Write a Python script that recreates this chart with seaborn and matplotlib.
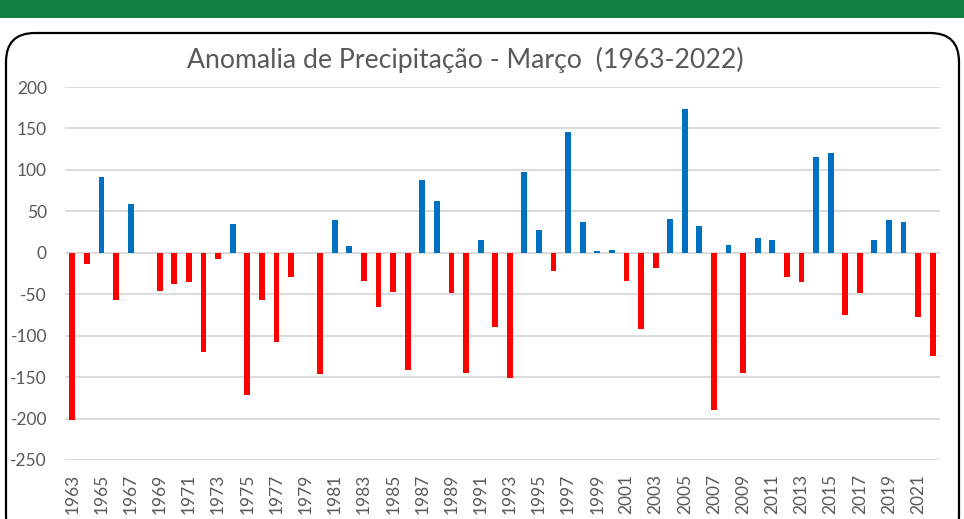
import seaborn as sns
import matplotlib.pyplot as plt
from matplotlib.patches import FancyBboxPatch, Rectangle
import pandas as pd

# Monthly precipitation anomaly for March, 1963-2022 (mm)
years = list(range(1963, 2023))
anomaly = [
    -202, -14, 92, -57, 59, 0, -46, -38, -35, -120,
    -8, 35, -172, -57, -108, -29, 0, -146, 39, 8,
    -34, -66, -47, -142, 88, 63, -49, -145, 15, -90,
    -151, 98, 27, -22, 146, 37, 2, 3, -34, -92,
    -18, 41, 173, 32, -190, 9, -145, 18, 16, -29,
    -35, 115, 120, -75, -49, 15, 39, 37, -77, -125,
]
y_ticks = [200, 150, 100, 50, 0, -50, -100, -150, -200, -250]
title = "Anomalia de Precipitação - Março  (1963-2022)"

df = pd.DataFrame({"Ano": [str(y) for y in years], "Anomalia": anomaly})
df["Sinal"] = ["pos" if v >= 0 else "neg" for v in anomaly]

sns.set_style("white")
plt.rcParams["font.family"] = ["Lato", "DejaVu Sans"]

fig = plt.figure(figsize=(9.64, 5.19), dpi=100)
fig.patch.set_facecolor("white")

# green header band and rounded frame (behind the axes)
fig.add_artist(Rectangle((0, 1 - 18 / 519), 1, 18 / 519, transform=fig.transFigure,
                         facecolor="#138040", edgecolor="none", zorder=-2))
fig.add_artist(FancyBboxPatch((6 / 964, -0.05), 953 / 964, 1.05 - 33 / 519,
                              boxstyle="round,pad=0,rounding_size=0.03",
                              transform=fig.transFigure, facecolor="white",
                              edgecolor="black", linewidth=1.6,
                              mutation_aspect=964 / 519, zorder=-1))

ax = fig.add_axes([65 / 964, 1 - 460 / 519, 875 / 964, 373 / 519])
ax.set_zorder(2)
ax.set_facecolor("none")
sns.barplot(data=df, x="Ano", y="Anomalia", hue="Sinal",
            palette={"pos": "#0070C0", "neg": "#FF0000"}, saturation=1,
            dodge=False, width=0.4, linewidth=0, legend=False, ax=ax, zorder=3)

ax.set_ylim(-250, 200)
ax.set_xlim(-0.5, len(years) - 0.5)
ax.set_yticks(y_ticks)
ax.set_yticklabels([str(t) for t in y_ticks])
ax.yaxis.grid(True, color="#D9D9D9", linewidth=1.3, zorder=0)
ax.set_axisbelow(True)
ax.set_xticks(range(0, len(years), 2))
ax.set_xticklabels([str(y) for y in years[::2]], rotation=90)
ax.tick_params(axis="y", labelsize=12.5, labelcolor="#595959", length=0, pad=13)
ax.tick_params(axis="x", labelsize=12.5, labelcolor="#595959", length=0, pad=10)
ax.set_xlabel("")
ax.set_ylabel("")
for s in ax.spines.values():
    s.set_visible(False)

fig.text(465 / 964, 1 - 60 / 519, title, ha="center", va="center",
         fontsize=19.2, color="#595959", zorder=5)

fig.savefig("out.png", dpi=100)
